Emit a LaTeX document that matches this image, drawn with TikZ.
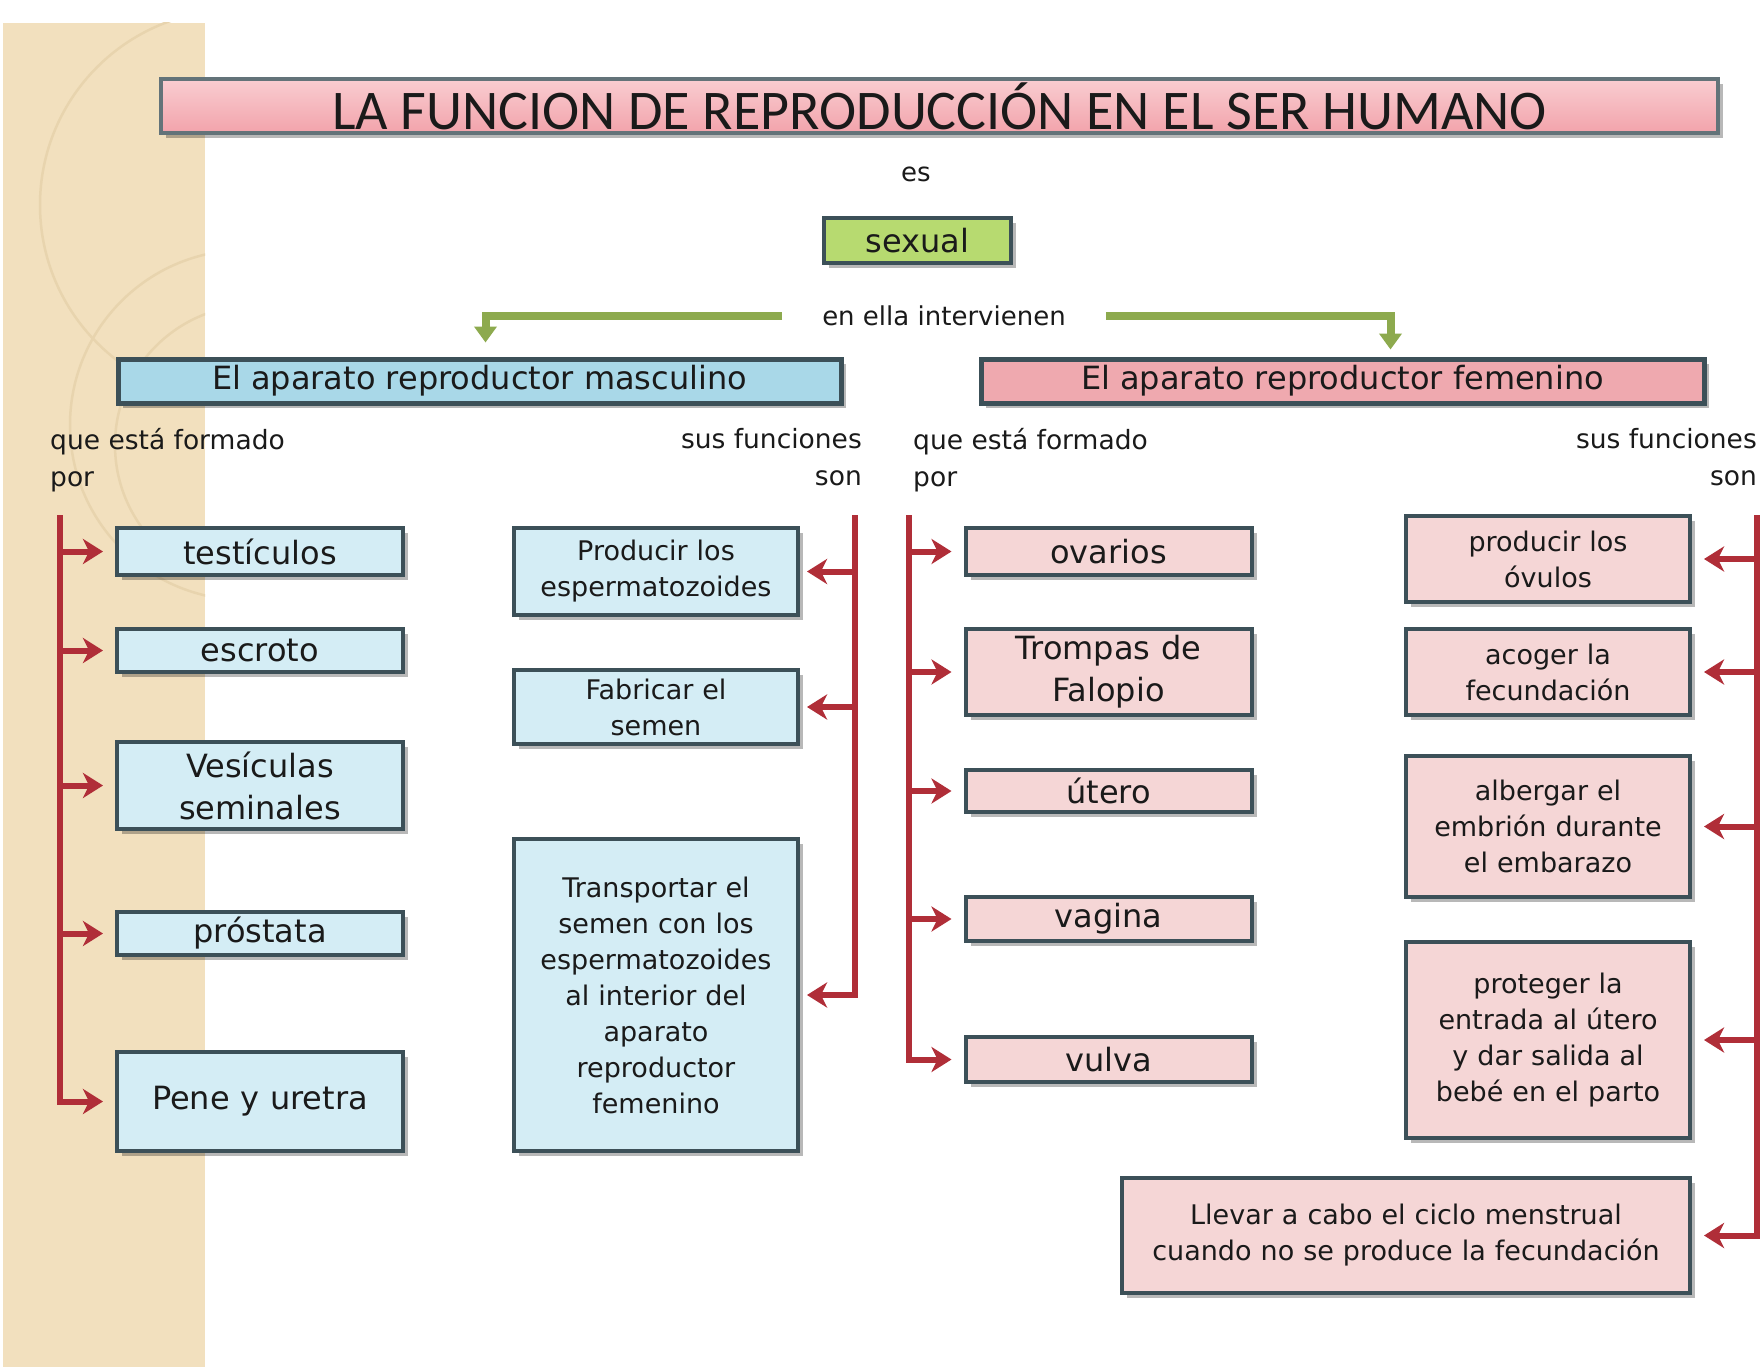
\documentclass[tikz,border=0pt]{standalone}
\usepackage{fontspec}
\setmainfont{DejaVu Sans}
\newfontfamily\titlefont{Carlito}
\usetikzlibrary{arrows.meta,shadows}
\definecolor{beige}{HTML}{F2E0BE}
\definecolor{arcc}{HTML}{E8D4AE}
\definecolor{bluebox}{HTML}{D4EDF5}
\definecolor{bluehead}{HTML}{A9D8E8}
\definecolor{pinkbox}{HTML}{F5D6D6}
\definecolor{pinkhead}{HTML}{EFA9AF}
\definecolor{titlepink}{HTML}{F2A3AB}
\definecolor{titlelight}{HTML}{F9CDD1}
\definecolor{greenbox}{HTML}{B7DA70}
\definecolor{bordc}{HTML}{3C5058}
\definecolor{redc}{HTML}{B02E38}
\definecolor{greenc}{HTML}{8DAA4E}
\definecolor{txt}{HTML}{1A1A1A}
\begin{document}
\begin{tikzpicture}[x=1pt,y=-1pt,
  box/.style={draw=bordc, line width=4pt, inner sep=2pt, align=center, text=txt,
    drop shadow={shadow xshift=5pt, shadow yshift=-5pt, fill=black, opacity=0.28}},
  titlebox/.style={box, minimum width=1557pt, minimum height=54pt,
    top color=titlelight, bottom color=titlepink, draw=bordc!80,
    font=\titlefont\fontsize{56}{60}\selectfont},
  headbox/.style={box, minimum width=723pt, minimum height=44pt, line width=5pt,
    font=\fontsize{32}{36}\selectfont},
  structbox/.style={box, minimum width=286pt, text width=276pt,
    font=\fontsize{32}{42}\selectfont},
  funcbox/.style={box, minimum width=284pt, text width=276pt,
    font=\fontsize{27}{36}\selectfont},
  plain/.style={inner sep=0pt, text=txt, font=\fontsize{26}{36}\selectfont},
  lbl/.style={inner sep=0pt, text=txt, font=\fontsize{26.5}{37}\selectfont},
  greenarrow/.style={draw=greenc, line width=8pt, -{Triangle[length=16pt,width=22pt]}},
  redarrow/.style={draw=redc, line width=6pt, -{Stealth[length=20pt,width=25pt,inset=6pt]}},
]
\useasboundingbox (0,0) rectangle (1763,1367);
\fill[white] (0,0) rectangle (1763,1367);
% decorative strip
\fill[beige] (3,23) rectangle (205,1367);
\begin{scope}
  \clip (3,23) rectangle (205,1367);
  \draw[arcc, line width=2.5pt] (235,205) circle[radius=195pt];
  \draw[arcc, line width=2.5pt] (245,425) circle[radius=175pt];
  \draw[arcc, line width=2.5pt] (255,445) circle[radius=140pt];
\end{scope}

% title and top
\node[titlebox] (title) at (939.5,106) {LA FUNCION DE REPRODUCCIÓN EN EL SER HUMANO};
\node[plain] (es) at (916,174) {es};
\node[box, fill=greenbox, minimum width=187pt, minimum height=45pt,
  font=\fontsize{32}{36}\selectfont] (sexual) at (917.5,240.5) {sexual};
\node[plain, inner xsep=40pt, inner ysep=4pt] (ella) at (944,316) {en ella intervienen};

\node[headbox, fill=bluehead] (mhead) at (479.5,381) {El aparato reproductor masculino};
\node[headbox, fill=pinkhead] (fhead) at (1342.5,381) {El aparato reproductor femenino};

\draw[greenarrow, shorten >=14pt] (ella.west) -| ([xshift=6pt]mhead.north);
\draw[greenarrow, shorten >=7pt] (ella.east) -| ([xshift=48pt]fhead.north);

% labels
\node[lbl, anchor=north west, align=left] (mlab1) at (50,428) {que está formado\\por};
\node[lbl, anchor=north east, align=right] (mlab2) at (862,428) {sus funciones\\son};
\node[lbl, anchor=north west, align=left] (flab1) at (913,428) {que está formado\\por};
\node[lbl, anchor=north east, align=right] (flab2) at (1757,428) {sus funciones\\son};

% male structures
\node[structbox, fill=bluebox, minimum height=47pt] (testi) at (260,551.5) {testículos};
\node[structbox, fill=bluebox, minimum height=43pt] (escroto) at (260,650.5) {escroto};
\node[structbox, fill=bluebox, minimum height=87pt] (vesic) at (260,785.5) {Vesículas\\seminales};
\node[structbox, fill=bluebox, minimum height=43pt] (prost) at (260,933.5) {próstata};
\node[structbox, fill=bluebox, minimum height=99pt] (pene) at (260,1101.5) {Pene y uretra};

% male functions
\node[funcbox, fill=bluebox, minimum height=87pt] (prod) at (656,571.5) {Producir los\\espermatozoides};
\node[funcbox, fill=bluebox, minimum height=74pt] (fabr) at (656,707) {Fabricar el\\semen};
\node[funcbox, fill=bluebox, minimum height=312pt] (transp) at (656,995) {Transportar el\\semen con los\\espermatozoides\\al interior del\\aparato\\reproductor\\femenino};

% female structures
\node[structbox, fill=pinkbox, minimum height=47pt] (ovar) at (1108.5,551.5) {ovarios};
\node[structbox, fill=pinkbox, minimum height=86pt] (tromp) at (1108.5,672) {Trompas de\\Falopio};
\node[structbox, fill=pinkbox, minimum height=42pt] (utero) at (1108.5,791) {útero};
\node[structbox, fill=pinkbox, minimum height=44pt] (vagina) at (1108.5,919) {vagina};
\node[structbox, fill=pinkbox, minimum height=45pt] (vulva) at (1108.5,1059.5) {vulva};

% female functions
\node[funcbox, fill=pinkbox, minimum height=86pt] (fprod) at (1548,559) {producir los\\óvulos};
\node[funcbox, fill=pinkbox, minimum height=86pt] (acog) at (1548,672) {acoger la\\fecundación};
\node[funcbox, fill=pinkbox, minimum height=141pt] (alberg) at (1548,826.5) {albergar el\\embrión durante\\el embarazo};
\node[funcbox, fill=pinkbox, minimum height=196pt] (proteg) at (1548,1040) {proteger la\\entrada al útero\\y dar salida al\\bebé en el parto};
\node[funcbox, fill=pinkbox, minimum width=568pt, text width=556pt, minimum height=115pt] (llevar) at (1406,1235.5) {Llevar a cabo el ciclo menstrual\\cuando no se produce la fecundación};

% brackets
\coordinate (mtop) at (60,515);
\coordinate (mftop) at (855,515);
\coordinate (ftop) at (909,515);
\coordinate (fftop) at (1757,515);

\draw[redarrow, shorten >=12pt] (mtop) |- (pene.west);
\foreach \n in {testi,escroto,vesic,prost}
  \draw[redarrow, shorten >=12pt] (mtop |- \n.west) -- (\n.west);

\draw[redarrow, shorten >=7pt] (mftop) |- (transp.east);
\foreach \n in {prod,fabr}
  \draw[redarrow, shorten >=7pt] (mftop |- \n.east) -- (\n.east);

\draw[redarrow, shorten >=12pt] (ftop) |- (vulva.west);
\foreach \n in {ovar,tromp,utero,vagina}
  \draw[redarrow, shorten >=12pt] (ftop |- \n.west) -- (\n.west);

\draw[redarrow, shorten >=12pt] (fftop) |- (llevar.east);
\foreach \n in {fprod,acog,alberg,proteg}
  \draw[redarrow, shorten >=12pt] (fftop |- \n.east) -- (\n.east);
\end{tikzpicture}
\end{document}
